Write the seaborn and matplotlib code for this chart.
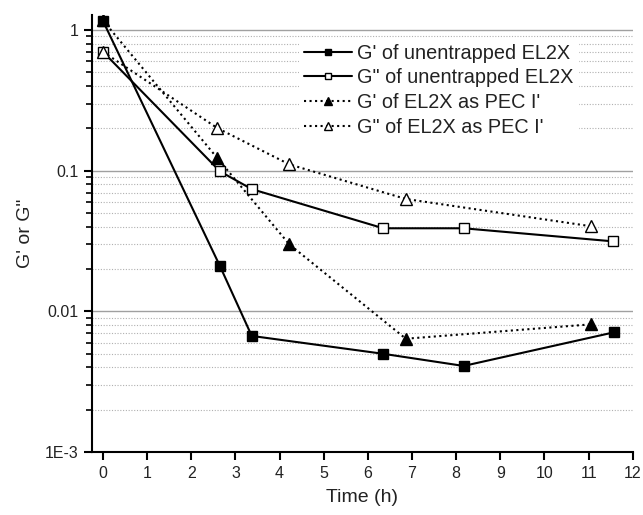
import matplotlib
matplotlib.use("Agg")
import matplotlib.pyplot as plt
import matplotlib.ticker as mticker
import seaborn as sns
import pandas as pd

# Data
time_gp_un = [0, 2.65, 3.37, 6.35, 8.17, 11.57]
gp_un = [1.16, 0.021, 0.0067, 0.0050, 0.0041, 0.0071]

time_gpp_un = [0, 2.65, 3.37, 6.35, 8.17, 11.55]
gpp_un = [0.70, 0.099, 0.074, 0.039, 0.039, 0.0315]

time_gp_pec = [0, 2.59, 4.22, 6.86, 11.06]
gp_pec = [1.17, 0.123, 0.030, 0.0064, 0.0081]

time_gpp_pec = [0, 2.59, 4.22, 6.86, 11.06]
gpp_pec = [0.70, 0.201, 0.111, 0.063, 0.0403]

labels = ["G' of unentrapped EL2X", 'G" of unentrapped EL2X',
          "G' of EL2X as PEC I'", 'G" of EL2X as PEC I\'']
x_ticks = list(range(0, 13))
y_ticks = [1e-3, 1e-2, 1e-1, 1]
y_tick_labels = ["1E-3", "0.01", "0.1", "1"]

sns.set_theme(style="white")
plt.rcParams['font.family'] = ['Liberation Sans', 'DejaVu Sans']

fig = plt.figure(figsize=(6.43, 5.15), dpi=100)
ax = fig.add_axes([0.143, 0.122, 0.841, 0.849])

series = [
    (time_gp_un, gp_un, dict(marker='s', linestyle='-', markerfacecolor='black', markersize=6.5)),
    (time_gpp_un, gpp_un, dict(marker='s', linestyle='-', markerfacecolor='white', markersize=6.5)),
    (time_gp_pec, gp_pec, dict(marker='^', linestyle=':', markerfacecolor='black', markersize=8)),
    (time_gpp_pec, gpp_pec, dict(marker='^', linestyle=':', markerfacecolor='white', markersize=8)),
]
for (xs, ys, st), lab in zip(series, labels):
    df = pd.DataFrame({"Time": xs, "G": ys})
    sns.lineplot(data=df, x="Time", y="G", ax=ax, color='black', label=lab,
                 markeredgecolor='black', markeredgewidth=1.0, linewidth=1.5, **st)

ax.set_yscale('log')
ax.set_xlim(-0.25, 12)
ax.set_ylim(1e-3, 1.28)
ax.set_xticks(x_ticks)
ax.set_xticklabels([str(t) for t in x_ticks])
ax.yaxis.set_major_locator(mticker.FixedLocator(y_ticks))
ax.yaxis.set_major_formatter(mticker.FixedFormatter(y_tick_labels))
ax.yaxis.set_minor_locator(mticker.LogLocator(base=10, subs=range(2, 10)))
ax.yaxis.set_minor_formatter(mticker.NullFormatter())

ax.grid(True, which='major', axis='y', color='#a0a0a0', linewidth=1.0, linestyle='-')
ax.grid(True, which='minor', axis='y', color='#b0b0b0', linewidth=0.8, linestyle=(0, (1, 1.5)))
ax.grid(False, axis='x')
ax.set_axisbelow(True)

for s in ['top', 'right']:
    ax.spines[s].set_visible(False)
for s in ['left', 'bottom']:
    ax.spines[s].set_color('black')
    ax.spines[s].set_linewidth(1.5)

ax.tick_params(axis='both', which='major', direction='out', length=6, width=1.5,
               labelsize=11.5, color='black', labelcolor='#222222', left=True, bottom=True)
ax.tick_params(axis='y', which='minor', direction='out', length=4, width=1.2, left=True, color='black')
ax.tick_params(axis='x', which='major', pad=4)

ax.set_xlabel("Time (h)", fontsize=14, color='#222222', labelpad=6)
ax.set_ylabel('G\' or G"', fontsize=14, color='#222222', labelpad=8)

leg = ax.legend(loc='upper left', bbox_to_anchor=(0.382, 0.948), fontsize=14.3,
                frameon=True, fancybox=False, framealpha=1, facecolor='white',
                edgecolor='none', handlelength=2.4, handletextpad=0.25,
                labelspacing=0.29, borderpad=0.3, borderaxespad=0, markerscale=0.7)
for t in leg.get_texts():
    t.set_color('#222222')

fig.savefig("out.png", dpi=100)
